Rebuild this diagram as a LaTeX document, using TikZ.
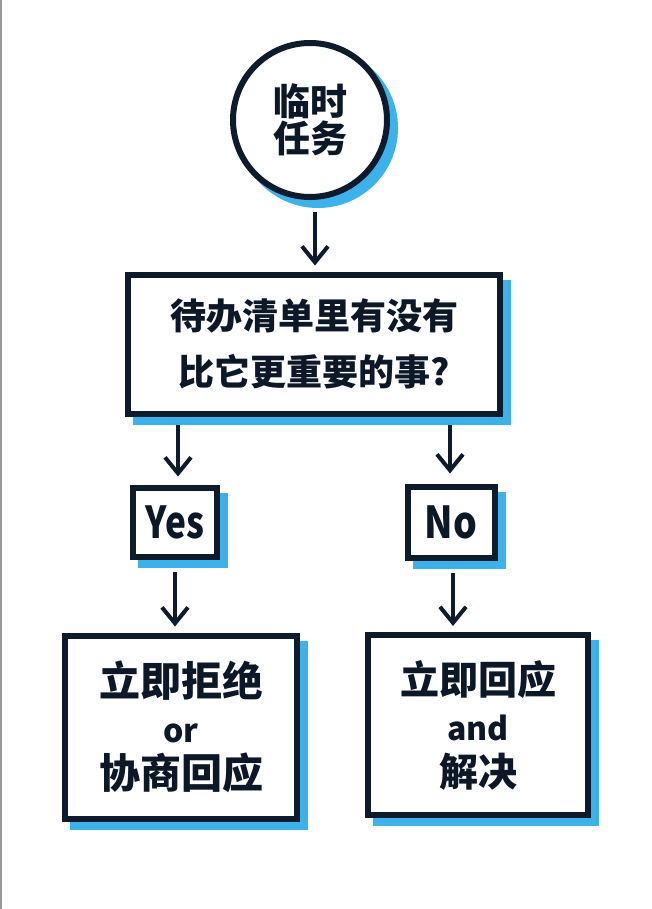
\documentclass[tikz,border=0pt]{standalone}
\usepackage{fontspec}
\newfontfamily\cjk{Noto Sans CJK SC}
\usetikzlibrary{arrows.meta}
\definecolor{ink}{HTML}{0E1B2C}
\definecolor{skyb}{HTML}{3DB2EA}
\tikzset{
  shad/.style={preaction={draw=skyb, fill=skyb, line width=6pt, transform canvas={shift={(8pt,-8pt)}}}},
  boxnode/.style={shad, draw=ink, fill=white, line width=6pt, inner sep=0pt, align=center, text=ink!90!black},
  arr/.style={draw=ink, line width=4pt, -{Straight Barb[length=16pt, width=26pt, line width=4pt]}},
}
\begin{document}
\begin{tikzpicture}[x=1pt, y=-1pt, font=\cjk\bfseries]
\useasboundingbox (0,0) rectangle (651,909);
\fill[white] (0,0) rectangle (651,909);
\draw[gray!80, line width=2pt] (1,0) -- (1,909);

\node[boxnode, circle, minimum size=154pt, font=\cjk\bfseries\fontsize{37}{37}\selectfont] (circ) at (310,120) {临时\\任务};

\node[boxnode, minimum width=372pt, minimum height=139pt, font=\cjk\bfseries\fontsize{36}{56}\selectfont] (big) at (314,344) {待办清单里有没有\\比它更重要的事?};

\node[boxnode, minimum width=84pt, minimum height=69pt, font=\cjk\bfseries\fontsize{44}{44}\selectfont] (yes) at (175,522) {\scalebox{0.8}[1]{Yes}};
\node[boxnode, minimum width=87pt, minimum height=71pt, font=\cjk\bfseries\fontsize{44}{44}\selectfont] (no) at (451,522) {\scalebox{0.85}[1]{No}};

\node[boxnode, minimum width=232pt, minimum height=183pt, font=\cjk\bfseries\fontsize{41}{46}\selectfont] (left) at (181,727) {立即拒绝\\{\fontsize{32}{46}\selectfont or}\\协商回应};
\node[boxnode, minimum width=220pt, minimum height=180pt, font=\cjk\bfseries\fontsize{39}{46}\selectfont] (right) at (478,725) {立即回应\\{\fontsize{32}{46}\selectfont and}\\解决};

\draw[arr, shorten <=12pt, shorten >=6pt] ([xshift=5pt]circ.south) -- ([xshift=5pt]circ.south |- big.north);
\draw[arr, shorten <=8pt, shorten >=8pt] ([xshift=3pt]yes.north |- big.south) -- ([xshift=3pt]yes.north);
\draw[arr, shorten <=8pt, shorten >=10pt] ([xshift=-1pt]no.north |- big.south) -- ([xshift=-1pt]no.north);
\draw[arr, shorten <=12pt, shorten >=6pt] (yes.south) -- (yes.south |- left.north);
\draw[arr, shorten <=12pt, shorten >=6pt] ([xshift=2pt]no.south) -- ([xshift=2pt]no.south |- right.north);
\end{tikzpicture}
\end{document}
